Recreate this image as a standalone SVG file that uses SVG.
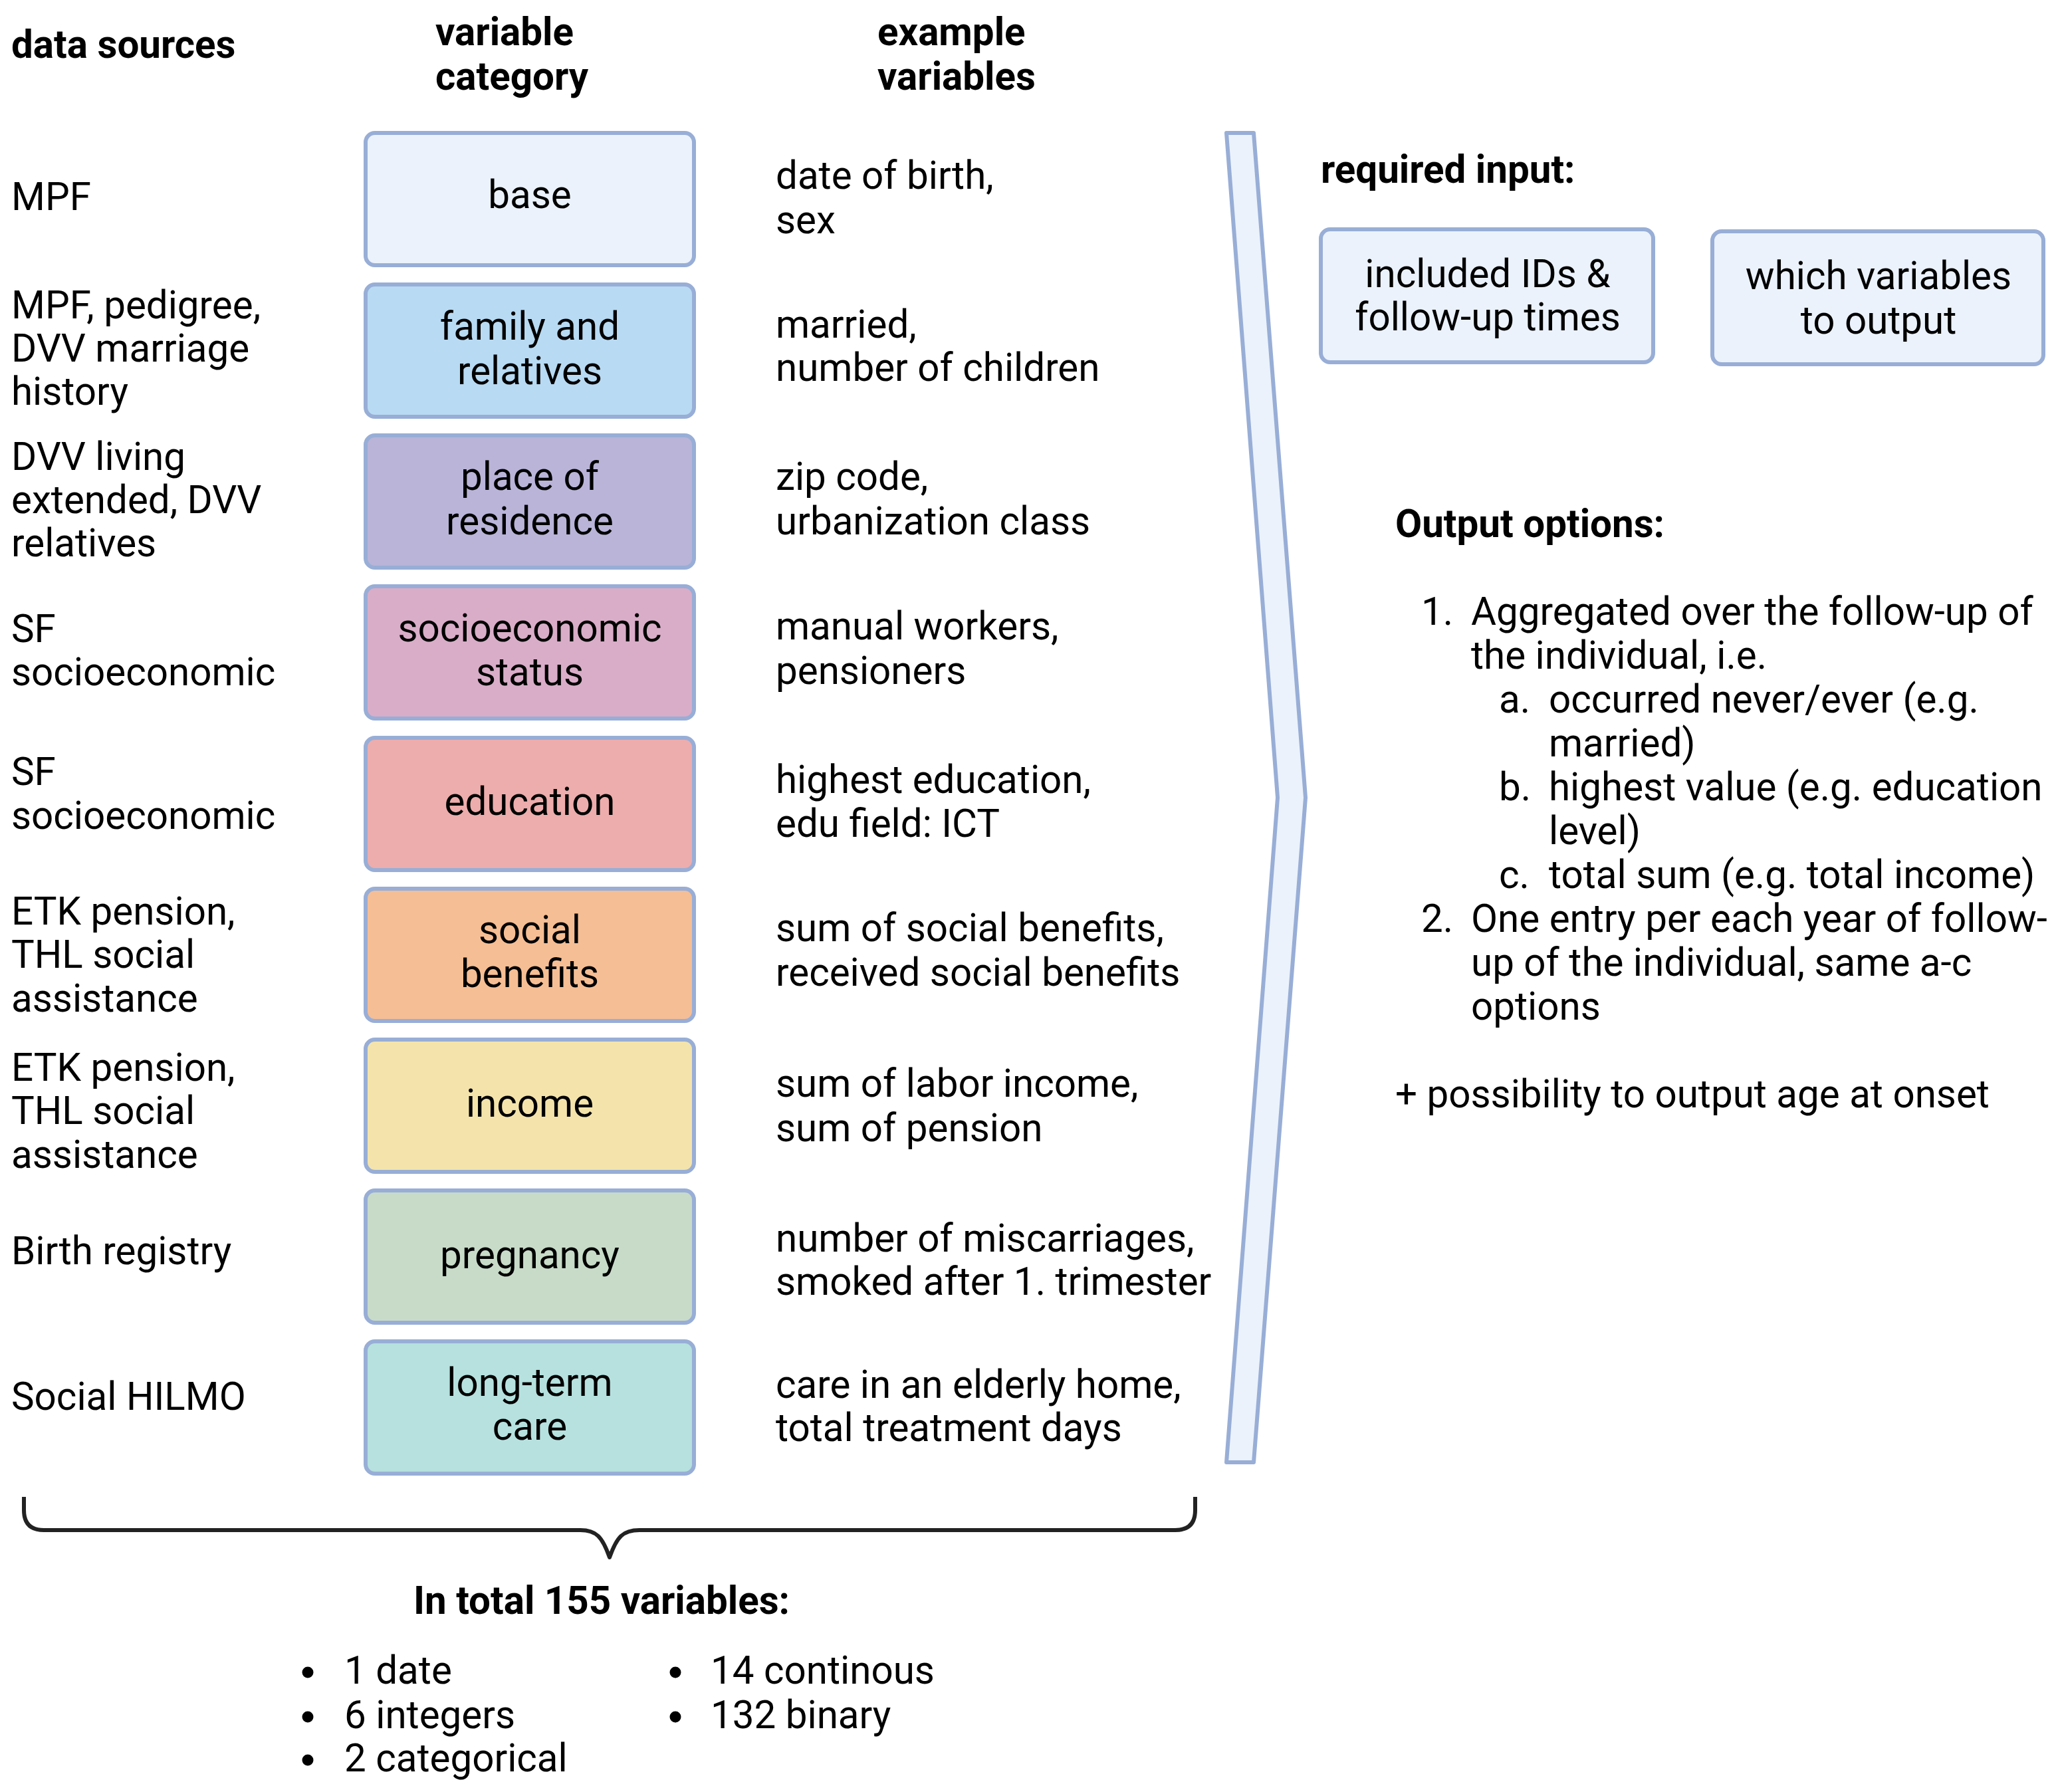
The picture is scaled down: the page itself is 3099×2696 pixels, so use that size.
<svg xmlns="http://www.w3.org/2000/svg" width="3099" height="2696" viewBox="0 0 3099 2696">
<style>
text{font-family:Roboto,"Liberation Sans",sans-serif;font-size:58.3px;fill:#000}
.b{font-weight:700}
.m{text-anchor:middle}
.box{stroke:#98AED6;stroke-width:6}
.brace{fill:none;stroke:#222;stroke-width:6;stroke-linecap:butt;stroke-linejoin:round}
</style>
<rect width="3099" height="2696" fill="#fff"/>

<g id="headers">
<text class="b" x="17" y="87">data sources</text>
<text class="b" x="655" y="68">variable</text>
<text class="b" x="655" y="135">category</text>
<text class="b" x="1320" y="68">example</text>
<text class="b" x="1320" y="135">variables</text>
</g>

<g id="sources">
<text x="17" y="316">MPF</text>
<text x="17" y="479">MPF, pedigree,</text>
<text x="17" y="544">DVV marriage</text>
<text x="17" y="609">history</text>
<text x="17" y="707">DVV living</text>
<text x="17" y="772">extended, DVV</text>
<text x="17" y="837">relatives</text>
<text x="17" y="966">SF</text>
<text x="17" y="1031">socioeconomic</text>
<text x="17" y="1181">SF</text>
<text x="17" y="1247">socioeconomic</text>
<text x="17" y="1391">ETK pension,</text>
<text x="17" y="1456">THL social</text>
<text x="17" y="1522">assistance</text>
<text x="17" y="1626">ETK pension,</text>
<text x="17" y="1691">THL social</text>
<text x="17" y="1757">assistance</text>
<text x="17" y="1902">Birth registry</text>
<text x="17" y="2121">Social HILMO</text>
</g>

<g id="cat-base"><rect class="box" x="550" y="200" width="494" height="199" rx="14" fill="#EBF2FB"/><text class="m" x="797" y="313">base</text></g>
<g id="cat-family"><rect class="box" x="550" y="428" width="494" height="199" rx="14" fill="#B8DAF3"/><text class="m" x="797" y="511">family and</text><text class="m" x="797" y="578">relatives</text></g>
<g id="cat-place"><rect class="box" x="550" y="655" width="494" height="199" rx="14" fill="#B9B4D8"/><text class="m" x="797" y="737">place of</text><text class="m" x="797" y="804">residence</text></g>
<g id="cat-socio"><rect class="box" x="550" y="882" width="494" height="199" rx="14" fill="#D9ADC8"/><text class="m" x="797" y="965">socioeconomic</text><text class="m" x="797" y="1031">status</text></g>
<g id="cat-education"><rect class="box" x="550" y="1110" width="494" height="199" rx="14" fill="#EDADAC"/><text class="m" x="797" y="1226">education</text></g>
<g id="cat-social"><rect class="box" x="550" y="1337" width="494" height="199" rx="14" fill="#F6BE94"/><text class="m" x="797" y="1419">social</text><text class="m" x="797" y="1485">benefits</text></g>
<g id="cat-income"><rect class="box" x="550" y="1564" width="494" height="199" rx="14" fill="#F4E4AB"/><text class="m" x="797" y="1680">income</text></g>
<g id="cat-pregnancy"><rect class="box" x="550" y="1791" width="494" height="199" rx="14" fill="#C8DBC9"/><text class="m" x="797" y="1908">pregnancy</text></g>
<g id="cat-longterm"><rect class="box" x="550" y="2018" width="494" height="199" rx="14" fill="#B6E1DE"/><text class="m" x="797" y="2100">long-term</text><text class="m" x="797" y="2166">care</text></g>

<g id="examples">
<text x="1167" y="284">date of birth,</text>
<text x="1167" y="351">sex</text>
<text x="1167" y="508">married,</text>
<text x="1167" y="573">number of children</text>
<text x="1167" y="737">zip code,</text>
<text x="1167" y="804">urbanization class</text>
<text x="1167" y="962">manual workers,</text>
<text x="1167" y="1029">pensioners</text>
<text x="1167" y="1193">highest education,</text>
<text x="1167" y="1259">edu field: ICT</text>
<text x="1167" y="1416">sum of social benefits,</text>
<text x="1167" y="1483">received social benefits</text>
<text x="1167" y="1650">sum of labor income,</text>
<text x="1167" y="1717">sum of pension</text>
<text x="1167" y="1883">number of miscarriages,</text>
<text x="1167" y="1948">smoked after 1. trimester</text>
<text x="1167" y="2103">care in an elderly home,</text>
<text x="1167" y="2168">total treatment days</text>
</g>

<g id="connectors">
<polygon points="1845,200 1886,200 1964,1200 1886,2200 1845,2200 1922,1200" fill="#EBF2FB" stroke="#98AED6" stroke-width="6" stroke-linejoin="round"/>
<path class="brace" d="M36 2252 L36 2272 Q36 2302 66 2302 L873 2302 C897 2302 906 2312 917 2343 C928 2312 937 2302 962 2302 L1768 2302 Q1798 2302 1798 2272 L1798 2252"/>
</g>

<g id="required-input">
<text class="b" x="1987" y="275">required input:</text>
</g>
<g id="input-ids"><rect class="box" x="1987" y="345" width="500" height="200" rx="14" fill="#EBF2FB"/><text class="m" x="2238" y="432">included IDs &amp;</text><text class="m" x="2238" y="497">follow-up times</text></g>
<g id="input-vars"><rect class="box" x="2576" y="348" width="498" height="200" rx="14" fill="#EBF2FB"/><text class="m" x="2826" y="435">which variables</text><text class="m" x="2826" y="502">to output</text></g>

<g id="output-options">
<text class="b" x="2099" y="808">Output options:</text>
<text x="2138" y="940">1.</text><text x="2213" y="940">Aggregated over the follow-up of</text>
<text x="2213" y="1006">the individual, i.e.</text>
<text x="2255" y="1072">a.</text><text x="2330" y="1072">occurred never/ever (e.g.</text>
<text x="2330" y="1138">married)</text>
<text x="2255" y="1204">b.</text><text x="2330" y="1204">highest value (e.g. education</text>
<text x="2330" y="1270">level)</text>
<text x="2255" y="1336">c.</text><text x="2330" y="1336">total sum (e.g. total income)</text>
<text x="2138" y="1402">2.</text><text x="2213" y="1402">One entry per each year of follow-</text>
<text x="2213" y="1468">up of the individual, same a-c</text>
<text x="2213" y="1534">options</text>
<text x="2099" y="1666">+ possibility to output age at onset</text>
</g>

<g id="total">
<text class="b m" x="905" y="2428">In total 155 variables:</text>
<circle cx="463" cy="2516" r="8.5"/>
<circle cx="463" cy="2583" r="8.5"/>
<circle cx="463" cy="2648" r="8.5"/>
<circle cx="1016" cy="2516" r="8.5"/>
<circle cx="1016" cy="2583" r="8.5"/>
<text x="518" y="2533">1 date</text>
<text x="518" y="2600">6 integers</text>
<text x="518" y="2665">2 categorical</text>
<text x="1069" y="2533">14 continous</text>
<text x="1069" y="2600">132 binary</text>
</g>
</svg>
